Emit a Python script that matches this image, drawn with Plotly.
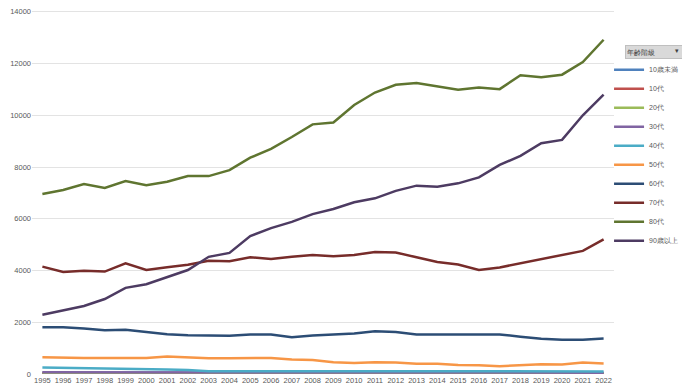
import plotly.graph_objects as go

years = [str(y) for y in range(1995, 2023)]

series_names = ["10歳未満", "10代", "20代", "30代", "40代", "50代", "60代", "70代", "80代", "90歳以上"]
colors = ["#4F81BD", "#C0504D", "#9BBB59", "#8064A2", "#4BACC6", "#F79646",
          "#2C4D75", "#772C2A", "#5F7530", "#4D3B62"]

v_under10 = [50, 50, 45, 45, 40, 40, 40, 40, 35, 35, 35, 35, 35, 35, 35, 35, 35, 35, 35, 35, 35, 35, 35, 35, 35, 35, 35, 35]
v_10s = [20, 20, 20, 20, 20, 20, 20, 20, 20, 20, 20, 20, 20, 20, 20, 20, 20, 20, 20, 20, 20, 20, 20, 20, 20, 20, 20, 20]
v_20s = [30, 30, 30, 30, 30, 30, 30, 30, 30, 30, 30, 30, 30, 30, 30, 30, 30, 30, 30, 30, 30, 30, 30, 30, 30, 30, 30, 30]
v_30s = [70, 70, 65, 60, 60, 55, 55, 50, 50, 50, 50, 50, 50, 50, 50, 50, 50, 50, 50, 50, 50, 50, 50, 50, 50, 50, 50, 50]
v_40s = [250, 240, 230, 220, 200, 190, 170, 150, 110, 110, 110, 110, 100, 100, 100, 100, 100, 110, 100, 100, 100, 100, 100, 100, 100, 100, 100, 100]
v_50s = [650, 630, 620, 620, 620, 620, 680, 640, 610, 610, 620, 620, 560, 540, 450, 430, 450, 440, 400, 400, 350, 340, 300, 340, 380, 370, 440, 410]
v_60s = [1810, 1810, 1760, 1690, 1710, 1620, 1540, 1500, 1500, 1480, 1530, 1530, 1420, 1490, 1530, 1570, 1650, 1620, 1530, 1530, 1510, 1510, 1530, 1440, 1360, 1320, 1320, 1370]
v_70s = [4150, 3940, 3990, 3960, 4280, 4020, 4130, 4220, 4380, 4360, 4510, 4450, 4530, 4600, 4550, 4600, 4720, 4700, 4510, 4330, 4230, 4020, 4120, 4280, 4440, 4600, 4760, 5200]
v_80s = [6960, 7110, 7340, 7190, 7460, 7300, 7430, 7650, 7650, 7880, 8360, 8700, 9160, 9650, 9720, 10400, 10880, 11180, 11250, 11120, 10990, 11070, 11010, 11550, 11470, 11570, 12060, 12920]
v_90plus = [2290, 2450, 2630, 2900, 3330, 3470, 3760, 4020, 4530, 4680, 5330, 5640, 5880, 6180, 6380, 6640, 6790, 7080, 7280, 7240, 7370, 7600, 8080, 8430, 8920, 9050, 10000, 10800]

all_values = [v_under10, v_10s, v_20s, v_30s, v_40s, v_50s, v_60s, v_70s, v_80s, v_90plus]

y_ticks = [0, 2000, 4000, 6000, 8000, 10000, 12000, 14000]
y_tick_labels = [str(v) for v in y_ticks]

fig = go.Figure()
for name, vals, col in zip(series_names, all_values, colors):
    fig.add_trace(go.Scatter(x=years, y=vals, mode="lines", name=name,
                             line=dict(color=col, width=2.5)))

# page body has an 8px margin, so the figure is sized to fit the window
fig.update_layout(
    width=682, height=380,
    margin=dict(l=24, r=76, t=2, b=14, autoexpand=False),
    paper_bgcolor="white", plot_bgcolor="white",
    font=dict(family="Liberation Sans, Arial, sans-serif", size=8, color="#595959"),
    showlegend=True,
    legend=dict(x=0.9915, xanchor="left", y=0.876, yanchor="top",
                font=dict(size=7, color="#595959"),
                bgcolor="rgba(0,0,0,0)", itemwidth=30),
    xaxis=dict(type="category", range=[-0.5, 27.5], showgrid=False, showline=False,
               ticks="", tickangle=0, tickfont=dict(size=7.5), automargin=False),
    yaxis=dict(range=[0, 14070], tickvals=y_ticks, ticktext=y_tick_labels,
               showgrid=True, gridcolor="#E3E3E3", automargin=False,
               ticklabeloverflow="allow",
               gridwidth=1, zeroline=False, showline=False, ticks="", tickfont=dict(size=7.5)),
    annotations=[
        dict(text="年齢階級", x=1.0189, xref="paper", xanchor="left",
             y=0.903, yref="paper", yanchor="top", showarrow=False,
             width=58, height=10, align="left",
             bgcolor="#D9D9D9", bordercolor="#BFBFBF", borderwidth=1,
             font=dict(size=7, color="#404040"), borderpad=1),
        dict(text="▾", x=1.108, xref="paper", xanchor="center",
             y=0.903, yref="paper", yanchor="top", showarrow=False,
             font=dict(size=7, color="#404040"), borderpad=1),
    ],
)

fig.write_html("out.html")
